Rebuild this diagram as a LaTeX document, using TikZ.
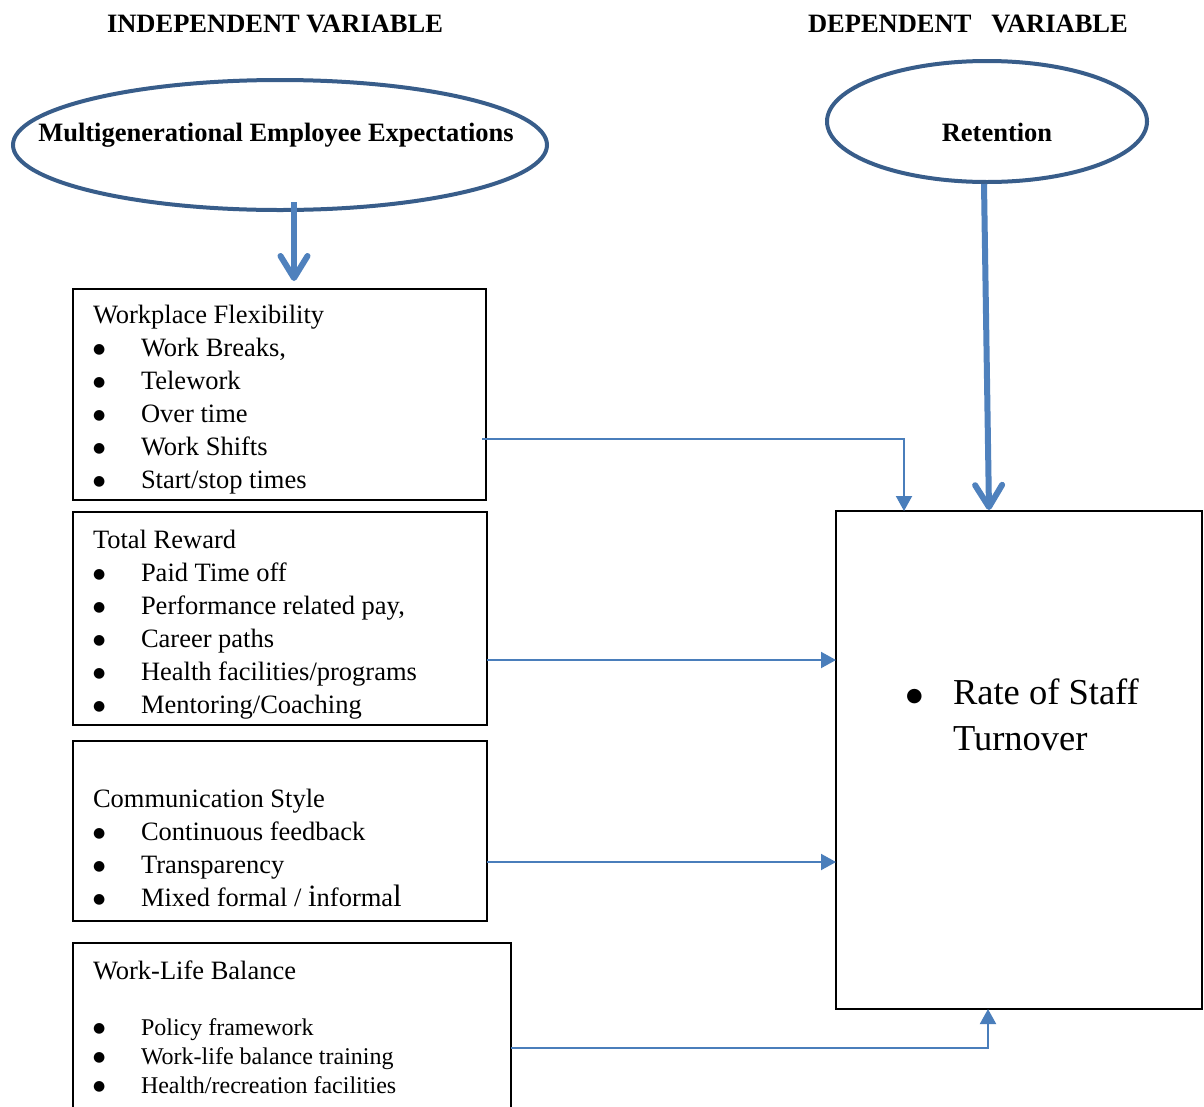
\documentclass[tikz,border=0pt]{standalone}
\usepackage{fontspec}
\setmainfont{Liberation Serif}
\newfontfamily\bulfont{DejaVu Sans}
\usetikzlibrary{arrows.meta,shapes.geometric,calc}
\definecolor{ellblue}{HTML}{385D8A}
\definecolor{arrblue}{HTML}{4F81BD}
\definecolor{conblue}{HTML}{4A7EBB}
\newcommand{\bul}[1]{\makebox[#1][l]{\raisebox{3pt}{\bulfont\fontsize{14}{14}\selectfont ●}}}
\newcommand{\bigbul}[1]{\makebox[#1][l]{\raisebox{3pt}{\bulfont\fontsize{19}{19}\selectfont ●}}}
\begin{document}
\begin{tikzpicture}[x=1pt,y=-1pt,
  every node/.style={inner sep=0pt, outer sep=0pt},
  varbox/.style={draw=black, line width=1.3pt, rectangle, anchor=north west},
  oval/.style={draw=ellblue, line width=4pt, ellipse},
  thickarrow/.style={draw=arrblue, line width=6pt, -{Straight Barb[length=22pt,width=27pt,round]}},
  thinarrow/.style={draw=conblue, line width=2pt, -{Triangle[length=15pt,width=16pt]}},
  boxtext/.style={anchor=base west, align=left, font=\fontsize{26.5}{33}\selectfont},
  smalltext/.style={anchor=base west, align=left, font=\fontsize{24}{29.3}\selectfont},
  headtext/.style={anchor=base west, font=\fontsize{26.5}{30}\selectfont\bfseries},
  bigtext/.style={anchor=base west, align=left, font=\fontsize{36.5}{46}\selectfont}
]
\useasboundingbox (0,0) rectangle (1204,1106);
\clip (0,0) rectangle (1204,1106);
\fill[white] (0,0) rectangle (1204,1106);

% headings
\node[headtext] (indep) at (107,32) {INDEPENDENT VARIABLE};
\node[headtext] (dep) at (808,32) {DEPENDENT\hspace{0.75em}VARIABLE};

% ovals
\node[oval, minimum width=534pt, minimum height=130pt] (ie) at (280,145) {};
\node[headtext, anchor=base] (iet) at (276,141) {Multigenerational Employee Expectations};
\node[oval, minimum width=320pt, minimum height=121pt] (ret) at (987,121.5) {};
\node[headtext, anchor=base] (rett) at (997,141) {Retention};

% boxes
\node[varbox, minimum width=413pt, minimum height=211pt] (wf) at (73,289) {};
\node[boxtext] (wft) at (93,323) {\begin{tabular}[t]{@{}l@{}}
Workplace Flexibility\\
\bul{48pt}Work Breaks,\\
\bul{48pt}Telework\\
\bul{48pt}Over time\\
\bul{48pt}Work Shifts\\
\bul{48pt}Start/stop times
\end{tabular}};

\node[varbox, minimum width=414pt, minimum height=213pt] (tr) at (73,512) {};
\node[boxtext] (trt) at (93,548) {\begin{tabular}[t]{@{}l@{}}
Total Reward\\
\bul{48pt}Paid Time off\\
\bul{48pt}Performance related pay,\\
\bul{48pt}Career paths\\
\bul{48pt}Health facilities/programs\\
\bul{48pt}Mentoring/Coaching
\end{tabular}};

\node[varbox, minimum width=414pt, minimum height=180pt] (cs) at (73,741) {};
\node[boxtext] (cst) at (93,807) {\begin{tabular}[t]{@{}l@{}}
Communication Style\\
\bul{48pt}Continuous feedback\\
\bul{48pt}Transparency\\
\bul{48pt}Mixed formal / {\fontsize{31}{33}\selectfont i}nforma{\fontsize{31}{33}\selectfont l}
\end{tabular}};

\node[varbox, minimum width=438pt, minimum height=190pt] (wlb) at (73,943) {};
\node[boxtext] (wlbt) at (93,979) {Work-Life Balance};
\node[smalltext] (wlbl) at (93,1035) {\begin{tabular}[t]{@{}l@{}}
\bul{48pt}Policy framework\\
\bul{48pt}Work-life balance training\\
\bul{48pt}Health/recreation facilities
\end{tabular}};

% dependent box
\node[draw=black, line width=2pt, rectangle, minimum width=366pt, minimum height=498pt] (rt) at (1019,760) {};
\node[bigtext] (rtt) at (906,704) {\begin{tabular}[t]{@{}l@{}}
\bigbul{47pt}Rate of Staff\\
\hspace{47pt}Turnover
\end{tabular}};

% thick arrows
\draw[thickarrow] ([xshift=14pt,yshift=8pt]ie.south) -- ([xshift=14.5pt,yshift=8pt]wf.north);
\draw[thickarrow] ([xshift=-3pt,yshift=-2pt]ret.south) -- ([xshift=-30pt,yshift=1pt]rt.north);

% thin connectors
\coordinate (c1) at ([xshift=-4pt,yshift=-44.5pt]wf.east);
\draw[thinarrow] (c1) -| ([xshift=-115pt]rt.north);
\coordinate (c2) at ([yshift=-41.5pt]tr.east);
\draw[thinarrow] (c2) -- (c2 -| rt.west);
\coordinate (c3) at ([yshift=-31pt]cs.east);
\draw[thinarrow] (c3) -- (c3 -| rt.west);
\coordinate (c4) at ([yshift=-9.5pt]wlb.east);
\draw[thinarrow] (c4) -| ([xshift=-31pt]rt.south);
\end{tikzpicture}
\end{document}
